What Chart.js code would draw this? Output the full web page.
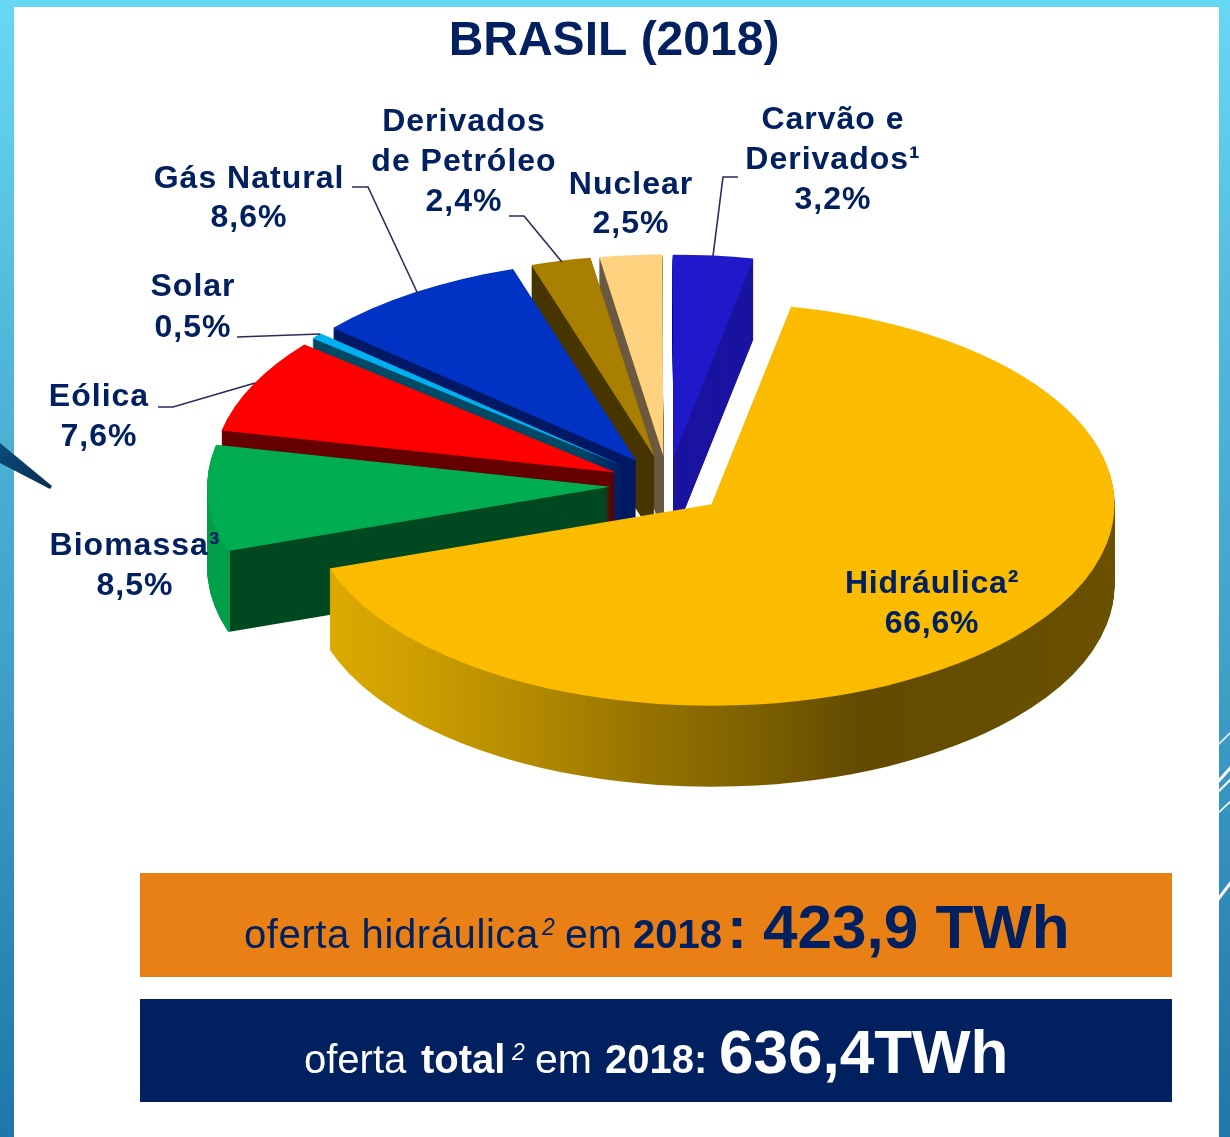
<!DOCTYPE html>
<html lang="pt">
<head>
<meta charset="utf-8">
<title>Brasil (2018)</title>
<script src="https://cdn.jsdelivr.net/npm/chart.js@4"></script>
<style>
html,body{margin:0;padding:0;background:#fff;overflow:hidden}
canvas{display:block;filter:blur(0.45px)}
</style>
</head>
<body>
<canvas id="c" width="1230" height="1137"></canvas>
<script>
const categories = ['Hidráulica²','Biomassa³','Eólica','Solar','Gás Natural','Derivados de Petróleo','Nuclear','Carvão e Derivados¹'];
const values = [66.6,8.5,7.6,0.5,8.6,2.4,2.5,3.2];
const topColors = ['#fbbc00','#00ad4f','#ff0000','#00b0f0','#0032c4','#a87f00','#ffd27f','#2019cc'];
const sideColors = ['#6a5100','#004820','#660000','#004a66','#001a66','#483600','#6b5a40','#1a14a0'];
const labelLines = [
  ['Hidráulica²'],['Biomassa³'],['Eólica'],['Solar'],['Gás Natural'],
  ['Derivados','de Petróleo'],['Nuclear'],['Carvão e','Derivados¹']
];
const titleText = 'BRASIL (2018)';
const NAVY = '#002060';
const PIE = {cy:485, squash:0.5, depth:81, explode:58, startDeg:11.4};
const labelPos = [ // centre x, first baseline, line gap
  [932,593,40],[135,555,40],[99,406,40],[193,296,41],[249,188,39],[464,131,40],[631,194,39],[833,129,40]
];
const leaders = [
  [[352,187],[368,187],[417,292]],
  [[509,216],[524,216],[562,262]],
  [[237,337],[320,334]],
  [[738,177],[723,177],[713,256]],
  [[158,407],[173,407],[255,383]]
];
const hydroWall = [[328,'#dcaa00'],[420,'#cc9e00'],[520,'#b68c00'],[650,'#947200'],[760,'#7c5f00'],[860,'#624b00'],[1113,'#6a5100']];

function withFill(arc, fill){
  const c = Object.create(arc);
  c.options = Object.assign({}, arc.options, {backgroundColor:fill});
  return c;
}
function sideFill(ctx,i,ox){
  if(i===0){
    const a=hydroWall[0][0], b=hydroWall[hydroWall.length-1][0];
    const g=ctx.createLinearGradient(a-ox,0,b-ox,0);
    hydroWall.forEach(s=>g.addColorStop((s[0]-a)/(b-a),s[1]));
    return g;
  }
  if(i===1){
    const g=ctx.createLinearGradient(200-ox,0,260-ox,0);
    g.addColorStop(0,'#009f49');g.addColorStop(0.5,'#009f49');
    g.addColorStop(0.5,sideColors[1]);g.addColorStop(1,sideColors[1]);
    return g;
  }
  return sideColors[i];
}

const pie3d = {
  id:'pie3d',
  beforeDraw(chart){
    const ctx=chart.ctx, W=chart.width, H=chart.height;
    ctx.save();
    const g=ctx.createLinearGradient(0,0,0,H);
    g.addColorStop(0,'#67d8f4');g.addColorStop(0.3,'#50b8da');g.addColorStop(0.6,'#3f9fc8');g.addColorStop(1,'#1e76aa');
    ctx.fillStyle=g;ctx.fillRect(0,0,W,H);
    // decorative white streaks on the right strip
    ctx.strokeStyle='#fff';
    [[733,745,1.5],[768,782,3],[780,792,2],[802,813,1.5],[883,900,3]].forEach(s=>{
      ctx.lineWidth=s[2];ctx.beginPath();ctx.moveTo(1232,s[0]-2);ctx.lineTo(1216,s[1]+2);ctx.stroke();
    });
    ctx.fillStyle='#fff';ctx.fillRect(14,7,1205,H-7);
    // dark wedge on the left
    const w=ctx.createLinearGradient(0,450,52,487);
    w.addColorStop(0,'#0a4a78');w.addColorStop(1,'#0a2a50');
    ctx.fillStyle=w;ctx.beginPath();ctx.moveTo(0,443);ctx.lineTo(52,486);ctx.lineTo(50,489);ctx.lineTo(0,463);ctx.closePath();ctx.fill();
    ctx.restore();
  },
  beforeDatasetDraw(chart,args){
    const ctx=chart.ctx, arcs=chart.getDatasetMeta(args.index).data;
    for(let i=arcs.length-1;i>=0;i--){
      const arc=arcs[i], mid=(arc.startAngle+arc.endAngle)/2;
      const ox=Math.cos(mid)*PIE.explode, oy=Math.sin(mid)*PIE.explode*PIE.squash;
      const place=step=>{
        ctx.save();
        ctx.translate(ox,PIE.cy+oy+step);
        ctx.scale(1,PIE.squash);
        ctx.translate(0,-arc.y);
      };
      const side=withFill(arc,sideFill(ctx,i,ox));
      for(let s=PIE.depth;s>=1;s--){place(s);side.draw(ctx);ctx.restore();}
      place(0);arc.draw(ctx);ctx.restore();
    }
    return false;
  },
  afterDraw(chart){
    const ctx=chart.ctx;
    ctx.save();
    // leaders
    ctx.strokeStyle='#2b2b58';ctx.lineWidth=1.6;
    leaders.forEach(l=>{ctx.beginPath();l.forEach((p,i)=>i?ctx.lineTo(p[0],p[1]):ctx.moveTo(p[0],p[1]));ctx.stroke();});
    // title
    ctx.fillStyle=NAVY;ctx.textAlign='center';ctx.textBaseline='alphabetic';
    ctx.font='bold 48px "Liberation Sans"';
    ctx.fillText(titleText,614,55);
    // slice labels
    ctx.font='bold 32px "Liberation Sans"';
    values.forEach((v,i)=>{
      const [x,y,gap]=labelPos[i];
      ctx.letterSpacing= i===0?'0.8px':'1px';
      const lines=[...labelLines[i],v.toFixed(1).replace('.',',')+'%'];
      lines.forEach((t,j)=>ctx.fillText(t,x,y+j*gap));
    });
    ctx.letterSpacing='0px';
    // bars
    ctx.fillStyle='#e98015';ctx.fillRect(140,873,1032,104);
    ctx.fillStyle='#002060';ctx.fillRect(140,999,1032,103);
    ctx.textAlign='left';
    const run=(col,y,parts)=>{
      ctx.fillStyle=col;
      parts.forEach(p=>{
        ctx.letterSpacing=p[4]||'0px';
        ctx.font=p[2]+' "Liberation Sans"';
        ctx.fillText(p[0],p[1],p[3]===undefined?y:y+p[3]);
      });
      ctx.letterSpacing='0px';
    };
    run(NAVY,948,[
      ['oferta hidráulica',244,'40px',undefined,'0.6px'],['2',542,'italic 23px',-13],['em',565,'41px'],
      ['2018',633,'bold 40px'],[':',727,'bold 60px'],['423,9 TWh',763,'bold 62px']
    ]);
    run('#fff',1073,[
      ['oferta ',304,'40px'],['total',421,'bold 40px'],['2',512,'italic 23px',-13],['em',535,'41px'],
      ['2018:',605,'bold 40px'],['636,4TWh',719,'bold 62px']
    ]);
    ctx.restore();
  }
};

new Chart(document.getElementById('c'),{
  type:'pie',
  data:{labels:categories,datasets:[{data:values,backgroundColor:topColors,borderWidth:0,offset:0}]},
  options:{
    responsive:false,animation:false,rotation:PIE.startDeg,
    layout:{padding:{left:265,right:159,top:165,bottom:166}},
    plugins:{legend:{display:false},tooltip:{enabled:false},title:{display:false}}
  },
  plugins:[pie3d]
});
</script>
</body>
</html>
